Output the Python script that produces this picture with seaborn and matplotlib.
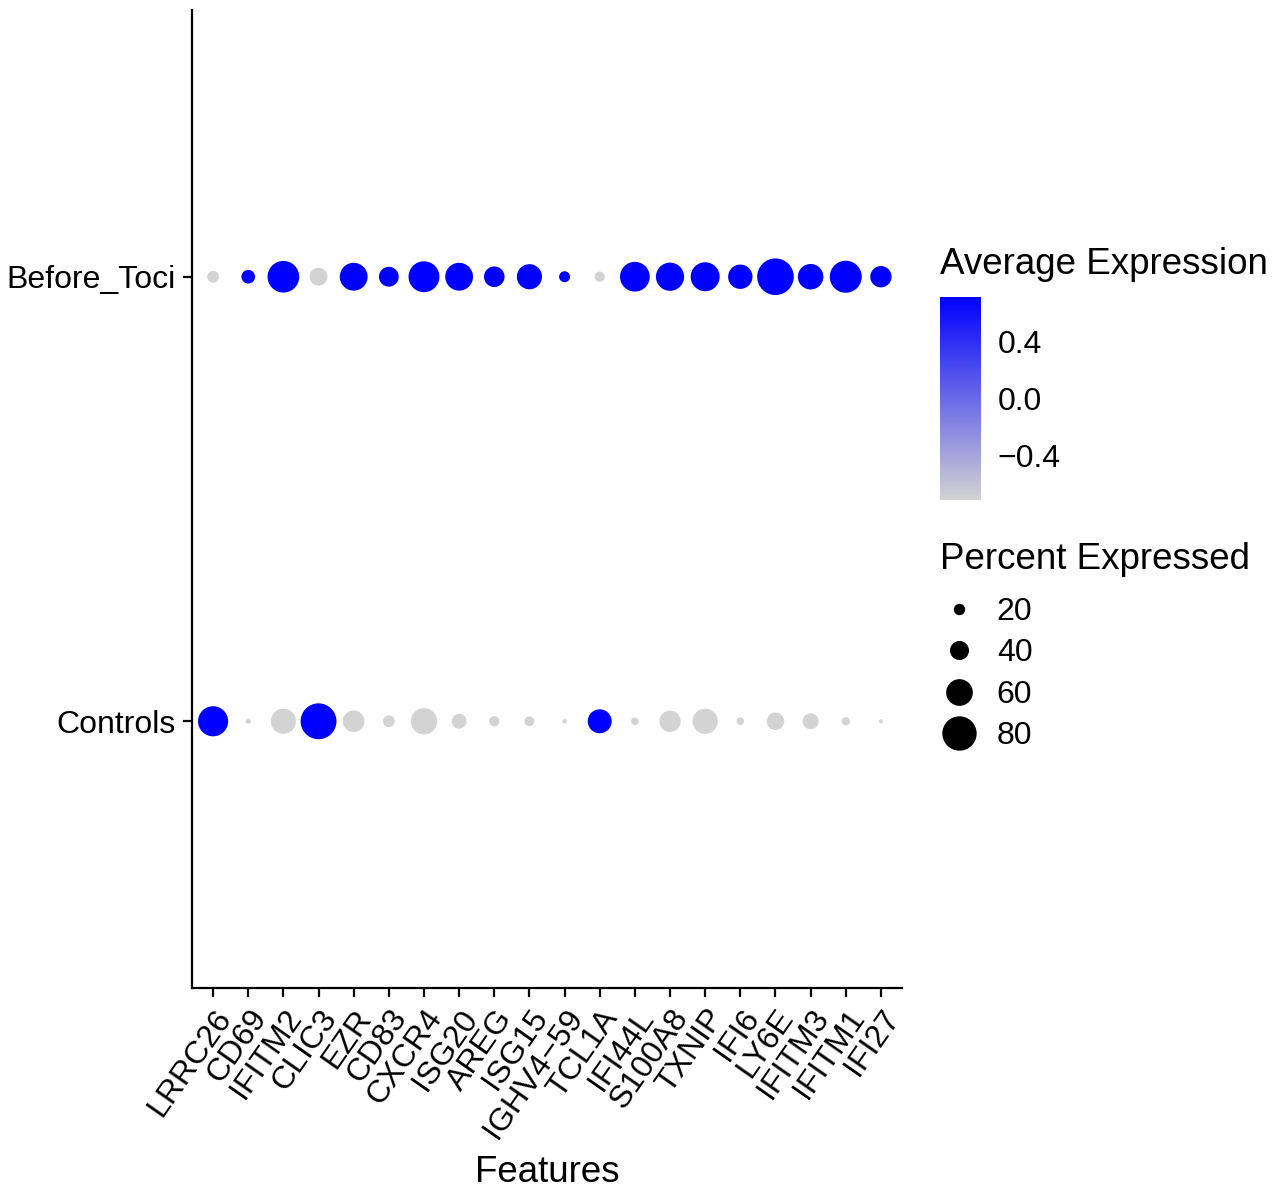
import numpy as np
import pandas as pd
import matplotlib
matplotlib.use("Agg")
import matplotlib.pyplot as plt
from matplotlib.colors import LinearSegmentedColormap, Normalize
from matplotlib.cm import ScalarMappable
from matplotlib.lines import Line2D
import seaborn as sns

# genes on the x axis, in plot order
features = ['LRRC26', 'CD69', 'IFITM2', 'CLIC3', 'EZR', 'CD83', 'CXCR4', 'ISG20',
            'AREG', 'ISG15', 'IGHV4\u221259', 'TCL1A', 'IFI44L', 'S100A8', 'TXNIP',
            'IFI6', 'LY6E', 'IFITM3', 'IFITM1', 'IFI27']
groups = ['Controls', 'Before_Toci']

# percent expressed
pct_controls = [69, 4, 56, 84, 47, 21, 59, 29, 17, 16, 2, 53, 10, 46, 56, 10, 36, 32, 12, 1]
pct_before = [21, 26, 73, 37, 63, 42, 71, 63, 44, 56, 19, 17, 68, 64, 66, 54, 86, 57, 74, 46]

# scaled average expression (two groups -> +/- 0.707)
avg_controls = [0.707, -0.707, -0.707, 0.707, -0.707, -0.707, -0.707, -0.707, -0.707, -0.707,
                -0.707, 0.707, -0.707, -0.707, -0.707, -0.707, -0.707, -0.707, -0.707, -0.707]
avg_before = [-v for v in avg_controls]

legend_pct = [20, 40, 60, 80]


def dot_diameter(p):
    '''diameter in pixels for a percent value (radius scale)'''
    return 3.7 + 0.383 * p


def dot_area(p):
    '''marker area in points^2 at dpi 100'''
    return (dot_diameter(p) * 0.72) ** 2


# long table, Controls first so it lands at the bottom
df = pd.DataFrame({
    'features': features * 2,
    'id': [groups[0]] * len(features) + [groups[1]] * len(features),
    'pct': pct_controls + pct_before,
    'avg': avg_controls + avg_before,
})

sns.set_style('ticks')
plt.rcParams['font.family'] = ['Liberation Sans', 'DejaVu Sans']
plt.rcParams.update({'text.color': 'black', 'axes.labelcolor': 'black',
                     'xtick.color': 'black', 'ytick.color': 'black',
                     'axes.edgecolor': 'black'})

cmap = LinearSegmentedColormap.from_list('grey_blue', ['#D3D3D3', '#0000FF'])
norm = Normalize(-0.707, 0.707)

fig = plt.figure(figsize=(12.72, 11.88), dpi=100)
ax = fig.add_axes([192 / 1272, 1 - 988 / 1188, 710 / 1272, 978 / 1188])

sizes = {p: dot_area(p) for p in df['pct'].unique()}
sns.scatterplot(data=df, x='features', y='id', size='pct', sizes=sizes,
                hue='avg', palette=cmap, hue_norm=norm, linewidth=0,
                legend=False, ax=ax)

ax.set_xlim(-0.6, len(features) - 0.4)
ax.set_ylim(-0.6, 1.6)
sns.despine(ax=ax)
for s in ['left', 'bottom']:
    ax.spines[s].set_linewidth(1.6)
ax.tick_params(axis='both', length=6.5, width=1.6, labelsize=23, pad=5)
plt.setp(ax.get_xticklabels(), rotation=55, ha='right', va='top',
         rotation_mode='anchor')
ax.set_xlabel('Features', fontsize=26.5, labelpad=8)
ax.set_ylabel('')

# colour bar
cax = fig.add_axes([940 / 1272, 1 - 500 / 1188, 41 / 1272, 203 / 1188])
cb = fig.colorbar(ScalarMappable(norm=norm, cmap=cmap), cax=cax, ticks=[-0.4, 0.0, 0.4])
cb.outline.set_visible(False)
cax.tick_params(axis='y', direction='in', length=6, width=1, color='white',
                left=True, right=True, labelsize=23, pad=12)
cax.set_yticklabels(['\u22120.4', '0.0', '0.4'])
fig.text(940 / 1272, 1 - 264 / 1188, 'Average Expression', fontsize=26.5, va='center', ha='left')

# size legend
fig.text(940 / 1272, 1 - 559 / 1188, 'Percent Expressed', fontsize=26.5, va='center', ha='left')
handles = [Line2D([], [], marker='o', linestyle='', color='black', markeredgewidth=0,
                  markersize=dot_diameter(p) * 0.72) for p in legend_pct]
leg = fig.legend(handles, [str(p) for p in legend_pct],
                 loc='center left', bbox_to_anchor=(923 / 1272, 1 - 674 / 1188),
                 frameon=False, fontsize=23, labelspacing=0.36, handlelength=1.45,
                 handletextpad=0.46, borderaxespad=0)

plt.savefig('out.png', dpi=100)
